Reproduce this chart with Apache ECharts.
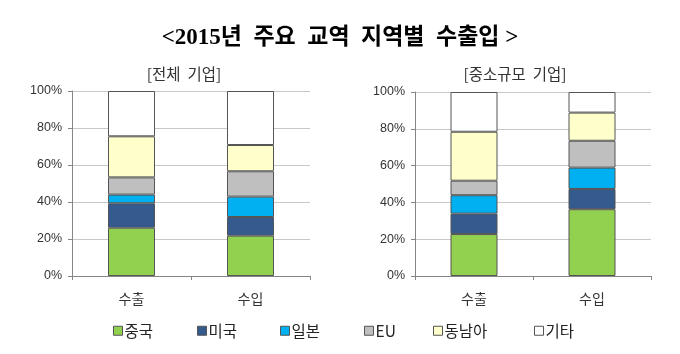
<!DOCTYPE html>
<html>
<head>
    <meta charset="utf-8"/>
    <title>2015년 주요 교역 지역별 수출입</title>
    <style type="text/css">
        body { margin: 0; background: #fff; }
        #main { width: 680px; height: 354px; }
    </style>
    <script type="text/javascript" src="https://cdn.jsdelivr.net/npm/echarts@6/dist/echarts.min.js"></script>
</head>
<body>
<div id="main"></div>
<script type="text/javascript">
    // 데이터 (그림에서 읽은 값, %)
    var categories = ['수출', '수입'];
    var regions = ['중국', '미국', '일본', 'EU', '동남아', '기타'];
    var colors = ['#92d050', '#345a8e', '#00b0f0', '#bfbfbf', '#ffffcc', '#ffffff'];
    var yTicks = [0, 20, 40, 60, 80, 100];

    // [전체 기업] : 지역별 [수출, 수입]
    var allChina = [26.1, 21.8];
    var allUS = [13.2, 10.1];
    var allJapan = [4.7, 11.0];
    var allEU = [9.3, 13.7];
    var allAsean = [22.2, 14.2];
    var allEtc = [24.5, 29.2];

    // [중소규모 기업]
    var smeChina = [22.8, 36.3];
    var smeUS = [11.1, 11.0];
    var smeJapan = [10.0, 11.6];
    var smeEU = [7.9, 14.6];
    var smeAsean = [26.6, 15.3];
    var smeEtc = [21.6, 11.2];

    var allData = [allChina, allUS, allJapan, allEU, allAsean, allEtc];
    var smeData = [smeChina, smeUS, smeJapan, smeEU, smeAsean, smeEtc];

    var font = '"Malgun Gothic", "Noto Sans CJK KR", sans-serif';
    // 범례 항목 위치 (엑셀 원본처럼 따로 배치)
    var legendLeft = [108, 192, 275, 359, 428, 529];

    function xAxis(idx) {
        return {
            type: 'category',
            gridIndex: idx,
            data: categories,
            axisLine: {lineStyle: {color: '#868686'}},
            axisTick: {show: true, length: 4, lineStyle: {color: '#868686'}},
            axisLabel: {color: '#333', fontSize: 14, fontFamily: font, margin: 16}
        };
    }

    function yAxis(idx) {
        return {
            type: 'value',
            gridIndex: idx,
            min: 0, max: 100, interval: 20,
            axisLine: {show: true, lineStyle: {color: '#868686'}},
            axisTick: {show: true, length: 4, inside: false, lineStyle: {color: '#868686'}},
            splitLine: {lineStyle: {color: '#c8c8c8'}},
            axisLabel: {
                color: '#333', fontSize: 12.5, fontFamily: '"Liberation Sans", Arial, sans-serif', margin: 10,
                formatter: function (v) { return yTicks.indexOf(v) >= 0 ? v + '%' : ''; }
            }
        };
    }

    var series = [];
    [allData, smeData].forEach(function (set, g) {
        set.forEach(function (vals, i) {
            series.push({
                name: regions[i],
                type: 'bar',
                stack: 'g' + g,
                xAxisIndex: g,
                yAxisIndex: g,
                barWidth: 47,
                data: vals,
                itemStyle: {color: colors[i], borderColor: '#555', borderWidth: 1},
                emphasis: {disabled: true}
            });
        });
    });

    var legends = regions.map(function (name, i) {
        return {
            data: [name],
            left: legendLeft[i],
            top: 318,
            icon: 'rect',
            itemWidth: 9,
            itemHeight: 9,
            itemGap: 0,
            selectedMode: false,
            textStyle: {fontSize: 15.5, color: '#222', fontFamily: font, padding: [0, 0, 0, -3]},
            itemStyle: {borderColor: '#555', borderWidth: 1}
        };
    });

    var myChart = echarts.init(document.getElementById('main'));
    var option = {
        animation: false,
        title: [{
            text: '<2015년  주요  교역  지역별  수출입 >',
            left: 'center', top: 22,
            textStyle: {fontSize: 23, fontWeight: 'bold', color: '#000',
                fontFamily: '"Liberation Serif", "Noto Sans CJK KR", serif'}
        }, {
            text: '[전체  기업]',
            left: 179, top: 61, textAlign: 'center',
            textStyle: {fontSize: 15.5, fontWeight: 'normal', color: '#333', fontFamily: font}
        }, {
            text: '[중소규모  기업]',
            left: 510, top: 61, textAlign: 'center',
            textStyle: {fontSize: 15.5, fontWeight: 'normal', color: '#333', fontFamily: font}
        }],
        legend: legends,
        grid: [
            {left: 72, right: 370, top: 91, bottom: 78},
            {left: 415, right: 29, top: 92, bottom: 78}
        ],
        xAxis: [xAxis(0), xAxis(1)],
        yAxis: [yAxis(0), yAxis(1)],
        series: series
    };
    myChart.setOption(option);
</script>
</body>
</html>
